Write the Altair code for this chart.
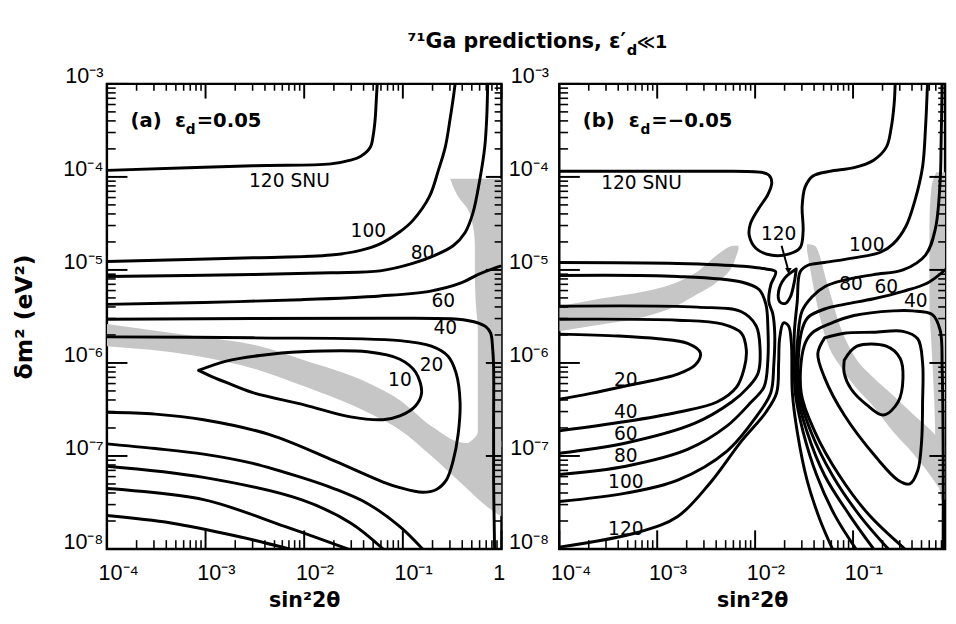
import altair as alt
import numpy as np
import pandas as pd

# ---------------- axes ----------------
X_MAJOR = [1e-4, 1e-3, 1e-2, 1e-1, 1.0]
X_MAJOR_LABELS = ["10⁻⁴", "10⁻³", "10⁻²", "10⁻¹", "1"]
Y_MAJOR = [1e-8, 1e-7, 1e-6, 1e-5, 1e-4, 1e-3]
Y_MAJOR_LABELS = ["10⁻⁸", "10⁻⁷", "10⁻⁶", "10⁻⁵", "10⁻⁴", "10⁻³"]
MINOR_MULT = [2, 3, 4, 5, 6, 7, 8, 9]
A_XMAX = 1.0
B_XMAX = 0.87

# ---------------- panel (a): contour lines, log10(sin^2 2θ), log10(δm^2) ----------------
a120_x = [-4.0, -2.52, -1.73, -1.53, -1.43, -1.33, -1.30, -1.28, -1.27, -1.26]
a120_y = [-3.93, -3.88, -3.86, -3.82, -3.78, -3.68, -3.55, -3.37, -3.19, -3.0]
a100_x = [-4.0, -2.52, -1.73, -1.43, -1.23, -1.03, -0.90, -0.73, -0.64, -0.57, -0.52, -0.49, -0.47]
a100_y = [-4.91, -4.87, -4.84, -4.79, -4.72, -4.59, -4.47, -4.21, -3.93, -3.68, -3.37, -3.16, -3.0]
a80_x = [-4.0, -2.52, -1.73, -1.23, -0.90, -0.67, -0.49, -0.37, -0.29, -0.22, -0.17, -0.15, -0.14]
a80_y = [-5.07, -5.05, -5.03, -5.01, -4.93, -4.84, -4.74, -4.60, -4.39, -4.03, -3.68, -3.37, -3.0]
a60_x = [-4.0, -3.02, -2.03, -1.23, -0.73, -0.41, -0.24, -0.07, -0.01]
a60_y = [-5.37, -5.35, -5.32, -5.28, -5.23, -5.14, -5.05, -4.98, -4.96]
a40_x = [-4.0, -1.23, -0.44, -0.27, -0.16, -0.11, -0.09, -0.08, -0.08, -0.08, -0.07]
a40_y = [-5.53, -5.52, -5.53, -5.56, -5.61, -5.68, -5.84, -6.05, -6.63, -7.26, -8.0]
a20_x = [-4.0, -2.52, -1.03, -0.71, -0.54, -0.46, -0.42, -0.44, -0.49, -0.56, -0.66, -0.80,
         -1.03, -1.20, -1.70, -2.35, -3.02, -3.51, -4.0]
a20_y = [-5.72, -5.73, -5.76, -5.82, -5.93, -6.11, -6.42, -6.77, -7.05, -7.26, -7.36, -7.39,
         -7.34, -7.28, -7.05, -6.77, -6.61, -6.55, -6.53]
a10_x = [-3.07, -2.79, -2.45, -2.03, -1.36, -1.03, -0.87, -0.81, -0.87, -1.03, -1.20, -1.53,
         -2.00, -2.52, -2.79, -2.97, -3.07]
a10_y = [-6.08, -5.98, -5.92, -5.88, -5.88, -5.96, -6.10, -6.32, -6.46, -6.57, -6.61, -6.58,
         -6.45, -6.32, -6.21, -6.13, -6.08]
aL1_x = [-4.0, -3.51, -3.02, -2.52, -2.03, -1.70, -1.36, -1.03, -0.80]
aL1_y = [-6.87, -6.92, -6.98, -7.08, -7.23, -7.35, -7.51, -7.76, -8.0]
aL2_x = [-4.0, -3.02, -2.03, -1.53, -1.20]
aL2_y = [-7.11, -7.23, -7.47, -7.72, -8.0]
aL3_x = [-4.0, -3.02, -2.19, -1.56]
aL3_y = [-7.35, -7.47, -7.76, -8.0]
aL4_x = [-4.0, -3.35, -2.69, -2.15]
aL4_y = [-7.64, -7.72, -7.86, -8.0]

# shaded regions (a)
a_band_x = [-4.0, -3.12, -2.45, -2.03, -1.36, -1.03, -0.71, -0.37, -0.14, 0.0]
a_band_top = [-5.58, -5.71, -5.82, -5.96, -6.21, -6.40, -6.68, -6.86, -6.85, -6.84]
a_band_bot = [-5.82, -5.92, -6.08, -6.24, -6.53, -6.72, -7.00, -7.33, -7.55, -7.65]
a_vband_y = [-4.02, -4.21, -4.35, -4.53, -4.74, -5.08, -5.37, -5.65, -6.74, -6.90]
a_vband_x = [-0.52, -0.44, -0.34, -0.29, -0.27, -0.27, -0.26, -0.24, -0.24, -0.39]
a_vband_x2 = 0.0

# labels (a)
a_lab_text = ["120 SNU", "100", "80", "60", "40", "20", "10"]
a_lab_x = [-2.15, -1.35, -0.80, -0.59, -0.57, -0.71, -1.03]
a_lab_y = [-4.05, -4.58, -4.82, -5.34, -5.63, -6.02, -6.18]
a_tag_text = ["(a)", "ε", "=0.05"]
a_tag_x = [-3.76, -3.31, -3.09]
a_sub_x = [-3.20]
tag_y = -3.40

# ---------------- panel (b) ----------------
b120t_x = [-4.0, -2.59, -1.94, -1.86, -1.83, -1.87, -1.97, -2.05, -2.06, -1.99, -1.84, -1.66, -1.54,
           -1.51, -1.52, -1.49, -1.41, -1.24, -0.99, -0.79, -0.66, -0.61, -0.58, -0.57]
b120t_y = [-3.94, -3.94, -3.95, -3.98, -4.06, -4.19, -4.35, -4.51, -4.63, -4.77, -4.84, -4.83, -4.76,
           -4.58, -4.32, -4.11, -3.99, -3.94, -3.90, -3.82, -3.68, -3.47, -3.21, -3.0]
b100L_x = [-4.0, -2.79, -2.12, -1.89, -1.79, -1.84, -1.86, -1.82, -1.80, -1.81, -1.84, -1.99,
           -2.29, -2.79, -3.32, -4.0]
b100L_y = [-4.92, -4.93, -4.96, -4.99, -5.02, -5.16, -5.34, -5.47, -5.68, -6.03, -6.32, -6.58,
           -6.95, -7.26, -7.40, -7.49]
b80L_x = [-4.0, -2.79, -2.14, -1.96, -1.89, -1.87, -1.87, -1.91, -2.04, -2.29, -2.69, -3.32, -4.0]
b80L_y = [-5.06, -5.07, -5.13, -5.21, -5.37, -5.61, -5.97, -6.26, -6.42, -6.68, -6.93, -7.11, -7.20]
b60L_x = [-4.0, -2.59, -2.14, -1.99, -1.95, -1.97, -2.07, -2.24, -2.62, -3.32, -4.0]
b60L_y = [-5.39, -5.40, -5.45, -5.60, -5.84, -6.11, -6.26, -6.42, -6.65, -6.86, -6.97]
b40L_x = [-4.0, -2.79, -2.34, -2.14, -2.09, -2.11, -2.19, -2.39, -2.79, -3.32, -4.0]
b40L_y = [-5.53, -5.54, -5.58, -5.68, -5.86, -6.05, -6.26, -6.42, -6.53, -6.63, -6.73]
b20L_x = [-4.0, -3.39, -2.99, -2.69, -2.56, -2.61, -2.79, -3.29, -3.69, -4.0]
b20L_y = [-5.69, -5.71, -5.74, -5.79, -5.89, -6.02, -6.12, -6.24, -6.33, -6.39]
b120a_x = [-4.0, -3.19, -2.79, -2.46, -2.14, -1.89, -1.78, -1.76, -1.75, -1.71, -1.66, -1.63,
           -1.62, -1.57, -1.47, -1.34, -1.21]
b120a_y = [-7.98, -7.82, -7.65, -7.29, -6.84, -6.53, -6.32, -6.00, -5.74, -5.57, -5.60, -5.79,
           -6.32, -6.74, -7.26, -7.68, -8.0]
b120i_x = [-1.58, -1.60, -1.64, -1.69, -1.75, -1.76, -1.70, -1.58]
b120i_y = [-4.99, -5.13, -5.29, -5.36, -5.34, -5.23, -5.09, -4.99]
b100R_x = [-0.24, -0.26, -0.29, -0.37, -0.46, -0.59, -0.72, -0.99, -1.29, -1.46, -1.54, -1.57,
           -1.60, -1.60, -1.59, -1.51, -1.37, -1.19, -0.97]
b100R_y = [-3.0, -3.47, -3.89, -4.26, -4.53, -4.72, -4.81, -4.87, -4.92, -4.95, -5.02, -5.34,
           -5.68, -6.03, -6.32, -6.74, -7.21, -7.63, -8.0]
b80R_x = [-0.09, -0.10, -0.11, -0.16, -0.26, -0.49, -0.79, -1.09, -1.29, -1.42, -1.52, -1.56,
          -1.57, -1.47, -1.29, -1.04, -0.79]
b80R_y = [-3.0, -3.58, -4.03, -4.56, -4.84, -5.0, -5.05, -5.11, -5.18, -5.29, -5.44, -5.68,
          -6.32, -6.74, -7.21, -7.63, -8.0]
b60R_x = [-0.05, -0.24, -0.49, -0.79, -1.09, -1.29, -1.46, -1.53, -1.55, -1.43, -1.21, -0.94, -0.64]
b60R_y = [-4.99, -5.14, -5.23, -5.31, -5.37, -5.42, -5.51, -5.68, -6.32, -6.74, -7.21, -7.63, -8.0]
b40R_x = [-0.08, -0.08, -0.09, -0.11, -0.19, -0.39, -0.59, -0.99, -1.24, -1.42, -1.50, -1.53,
          -1.39, -1.14, -0.84, -0.47]
b40R_y = [-8.0, -6.95, -6.07, -5.65, -5.48, -5.44, -5.44, -5.49, -5.58, -5.68, -5.82, -6.32,
          -6.74, -7.21, -7.63, -8.0]
b20R_x = [-1.29, -1.09, -0.79, -0.49, -0.34, -0.29, -0.29, -0.30, -0.34, -0.42, -0.54, -0.76,
          -1.09, -1.29, -1.36, -1.29]
b20R_y = [-5.73, -5.68, -5.67, -5.66, -5.74, -6.0, -6.42, -6.84, -7.16, -7.30, -7.26, -7.02,
          -6.56, -6.16, -5.90, -5.73]
b10R_x = [-1.09, -0.96, -0.66, -0.52, -0.49, -0.54, -0.69, -0.86, -1.02, -1.09, -1.09]
b10R_y = [-5.97, -5.82, -5.82, -5.95, -6.16, -6.42, -6.56, -6.45, -6.28, -6.11, -5.97]

# shaded regions (b)
b_band1_x = [-4.0, -3.59, -3.12, -2.79, -2.59, -2.39, -2.22, -2.17]
b_band1_top = [-5.39, -5.31, -5.23, -5.13, -5.02, -4.84, -4.74, -4.74]
b_band1_bot = [-5.66, -5.59, -5.50, -5.38, -5.26, -5.13, -4.93, -4.78]
b_band2_x = [-1.47, -1.39, -1.26, -1.14, -0.99, -0.79, -0.59, -0.39, -0.19, -0.05]
b_band2_top = [-4.72, -4.74, -5.16, -5.58, -5.92, -6.16, -6.35, -6.55, -6.74, -6.90]
b_band2_bot = [-4.79, -5.26, -5.79, -6.02, -6.24, -6.47, -6.74, -6.97, -7.24, -7.47]
b_vband_y = [-3.95, -4.11, -4.53, -5.37, -5.79, -6.42, -7.05, -7.47]
b_vband_x = [-0.15, -0.20, -0.22, -0.22, -0.20, -0.17, -0.15, -0.10]
b_vband_x2 = -0.05

# labels (b)
b_lab_text = ["120 SNU", "120", "100", "80", "60", "40", "20", "40", "60", "80", "100", "120"]
b_lab_x = [-3.16, -1.76, -0.86, -1.02, -0.66, -0.36, -3.32, -3.32, -3.32, -3.32, -3.32, -3.32]
b_lab_y = [-4.07, -4.62, -4.73, -5.15, -5.18, -5.34, -6.18, -6.53, -6.77, -7.00, -7.28, -7.79]
b_tag_text = ["(b)", "ε", "=−0.05"]
b_tag_x = [-3.76, -3.29, -3.06]
b_sub_x = [-3.17]
b_arrow = {"x": [-1.73], "y": [-4.74], "x2": [-1.66], "y2": [-5.01]}

SHADE = "#c6c6c6"
NUM_FONT = "'Liberation Sans Narrow', 'Liberation Sans', sans-serif"
TXT_FONT = "DejaVu Sans"
H = 475


def label_expr(vals, labels):
    expr = "''"
    for v, lab in zip(vals, labels):
        e = int(round(np.log10(v)))
        expr = f"abs(log(datum.value)/LN10 - ({e})) < 0.05 ? '{lab}' : " + expr
    return expr


def curve_frame(curves):
    rows = []
    for name, xs, ys in curves:
        for i, (lx, ly) in enumerate(zip(xs, ys)):
            rows.append({"c": name, "i": i, "x": 10.0 ** lx, "y": 10.0 ** ly})
    return pd.DataFrame(rows)


def make_panel(curves, bands, vbands, labels, tags, sub_x, xmax, width, ytitle, ylabpad,
               arrow=None, title=False):
    xs = alt.Scale(type="log", domain=[1e-4, xmax], nice=False)
    ys = alt.Scale(type="log", domain=[1e-8, 1e-3], nice=False)
    xvals = [v for v in X_MAJOR if v <= xmax * 1.0001]
    xaxis = alt.Axis(values=xvals, labelExpr=label_expr(X_MAJOR, X_MAJOR_LABELS),
                     title="sin²2θ", titleFontSize=21, labelAlign="left", labelOffset=-9,
                     labelFlush=False, labelOverlap=False, labelPadding=14, titlePadding=7)
    if ytitle:
        yaxis = alt.Axis(values=Y_MAJOR, labelExpr=label_expr(Y_MAJOR, Y_MAJOR_LABELS),
                         title="δm² (eV²)", titleFontSize=24, labelPadding=ylabpad,
                         labelBaseline="alphabetic", labelOffset=-1,
                         titlePadding=27, labelOverlap=False, labelFlush=False)
    else:
        yaxis = alt.Axis(values=Y_MAJOR, labelExpr=label_expr(Y_MAJOR, Y_MAJOR_LABELS),
                         title=None, labelPadding=ylabpad, labelBaseline="alphabetic",
                         labelOffset=-1, labelOverlap=False, labelFlush=False)

    def X(f="x"):
        return alt.X(f"{f}:Q", scale=xs, axis=xaxis)

    def Y(f="y"):
        return alt.Y(f"{f}:Q", scale=ys, axis=yaxis)

    layers = []
    for bx, bt, bb in bands:
        df = pd.DataFrame({"x": [10.0 ** v for v in bx], "y": [10.0 ** v for v in bt],
                           "y2": [10.0 ** v for v in bb]})
        layers.append(alt.Chart(df).mark_area(color=SHADE, clip=True, interpolate="monotone")
                      .encode(x=X(), y=Y(), y2="y2:Q"))
    for vy, vx, vx2 in vbands:
        df = pd.DataFrame({"y": [10.0 ** v for v in vy], "x": [10.0 ** v for v in vx],
                           "x2": [10.0 ** vx2] * len(vy)})
        layers.append(alt.Chart(df).mark_area(color=SHADE, clip=True, orient="horizontal",
                                              interpolate="monotone")
                      .encode(y=Y(), x=X(), x2="x2:Q"))

    # inward ticks on all four sides
    xmaj = pd.DataFrame({"x": xvals})
    xmin = pd.DataFrame({"x": [m * 10.0 ** e for e in range(-4, 0) for m in MINOR_MULT
                               if m * 10.0 ** e <= xmax]})
    ymaj = pd.DataFrame({"y": Y_MAJOR})
    ymin = pd.DataFrame({"y": [m * 10.0 ** e for e in range(-8, -3) for m in MINOR_MULT]})
    for df, ln, sw in [(xmaj, 19, 2), (xmin, 9, 1.6)]:
        layers.append(alt.Chart(df).mark_rule(color="black", strokeWidth=sw)
                      .encode(x=X(), y=alt.value(H), y2=alt.value(H - ln)))
        layers.append(alt.Chart(df).mark_rule(color="black", strokeWidth=sw)
                      .encode(x=X(), y=alt.value(0), y2=alt.value(int(ln * 0.8))))
    for df, ln, sw in [(ymaj, 21, 2), (ymin, 9, 1.6)]:
        layers.append(alt.Chart(df).mark_rule(color="black", strokeWidth=sw)
                      .encode(y=Y(), x=alt.value(0), x2=alt.value(ln)))
        layers.append(alt.Chart(df).mark_rule(color="black", strokeWidth=sw)
                      .encode(y=Y(), x=alt.value(width), x2=alt.value(width - int(ln * 0.8))))

    # contour lines
    layers.append(alt.Chart(curve_frame(curves)).mark_line(
        color="black", strokeWidth=3, interpolate="catmull-rom", clip=True,
        strokeCap="round", strokeJoin="round")
        .encode(x=X(), y=Y(), detail="c:N", order="i:Q"))

    # contour labels
    lt, lxs, lys = labels
    ldf = pd.DataFrame({"t": lt, "x": [10.0 ** v for v in lxs], "y": [10.0 ** v for v in lys]})
    layers.append(alt.Chart(ldf).mark_text(font=TXT_FONT, fontSize=19, color="black")
                  .encode(x=X(), y=Y(), text="t:N"))

    # panel tag with subscript
    tt, tx = tags
    tdf = pd.DataFrame({"t": tt, "x": [10.0 ** v for v in tx], "y": [10.0 ** tag_y] * len(tt)})
    layers.append(alt.Chart(tdf).mark_text(font=TXT_FONT, fontSize=20, fontWeight="bold",
                                           align="left", color="black")
                  .encode(x=X(), y=Y(), text="t:N"))
    sdf = pd.DataFrame({"t": ["d"], "x": [10.0 ** v for v in sub_x], "y": [10.0 ** tag_y]})
    layers.append(alt.Chart(sdf).mark_text(font=TXT_FONT, fontSize=14, fontWeight="bold",
                                           align="left", dy=9, color="black")
                  .encode(x=X(), y=Y(), text="t:N"))

    if arrow is not None:
        adf = pd.DataFrame({k: [10.0 ** v for v in vals] for k, vals in arrow.items()})
        layers.append(alt.Chart(adf).mark_rule(color="black", strokeWidth=2)
                      .encode(x=X(), y=Y(), x2="x2:Q", y2="y2:Q"))
        layers.append(alt.Chart(adf).mark_point(shape="triangle-down", filled=True, size=45,
                                                color="black", opacity=1)
                      .encode(x=X("x2"), y=Y("y2")))

    if title:
        t1 = pd.DataFrame({"t": ["⁷¹Ga predictions, ε′"]})
        t2 = pd.DataFrame({"t": ["d"]})
        t3 = pd.DataFrame({"t": ["≪1"]})
        layers.append(alt.Chart(t1).mark_text(font=TXT_FONT, fontSize=21, fontWeight="bold",
                                              align="right", baseline="alphabetic", color="black")
                      .encode(x=alt.value(530), y=alt.value(-37), text="t:N"))
        layers.append(alt.Chart(t2).mark_text(font=TXT_FONT, fontSize=15, fontWeight="bold",
                                              align="left", baseline="alphabetic", color="black")
                      .encode(x=alt.value(531), y=alt.value(-30), text="t:N"))
        layers.append(alt.Chart(t3).mark_text(font=TXT_FONT, fontSize=18, fontWeight="bold",
                                              align="left", baseline="alphabetic", color="black")
                      .encode(x=alt.value(541), y=alt.value(-37), text="t:N"))

    return alt.layer(*layers).properties(width=width, height=H)


curves_a = [("a120", a120_x, a120_y), ("a100", a100_x, a100_y), ("a80", a80_x, a80_y),
            ("a60", a60_x, a60_y), ("a40", a40_x, a40_y), ("a20", a20_x, a20_y),
            ("a10", a10_x, a10_y), ("aL1", aL1_x, aL1_y), ("aL2", aL2_x, aL2_y),
            ("aL3", aL3_x, aL3_y), ("aL4", aL4_x, aL4_y)]
curves_b = [("b120t", b120t_x, b120t_y), ("b100L", b100L_x, b100L_y), ("b80L", b80L_x, b80L_y),
            ("b60L", b60L_x, b60L_y), ("b40L", b40L_x, b40L_y), ("b20L", b20L_x, b20L_y),
            ("b120a", b120a_x, b120a_y), ("b120i", b120i_x, b120i_y),
            ("b100R", b100R_x, b100R_y), ("b80R", b80R_x, b80R_y), ("b60R", b60R_x, b60R_y),
            ("b40R", b40R_x, b40R_y), ("b20R", b20R_x, b20R_y), ("b10R", b10R_x, b10R_y)]

left = make_panel(curves_a, [(a_band_x, a_band_top, a_band_bot)],
                  [(a_vband_y, a_vband_x, a_vband_x2)],
                  (a_lab_text, a_lab_x, a_lab_y), (a_tag_text, a_tag_x), a_sub_x,
                  A_XMAX, 403, True, 4, title=True)
right = make_panel(curves_b, [(b_band1_x, b_band1_top, b_band1_bot),
                              (b_band2_x, b_band2_top, b_band2_bot)],
                   [(b_vband_y, b_vband_x, b_vband_x2)],
                   (b_lab_text, b_lab_x, b_lab_y), (b_tag_text, b_tag_x), b_sub_x,
                   B_XMAX, 394, False, 11, arrow=b_arrow)

chart = (alt.hconcat(left, right, spacing=59, bounds="flush")
         .properties(padding={"left": 3, "top": 15, "right": 0, "bottom": 0}, background="white")
         .configure_view(stroke="black", strokeWidth=2.5)
         .configure_axis(grid=False, ticks=False, domain=False, labelFont=NUM_FONT,
                         labelFontSize=22, labelColor="black", titleFont=TXT_FONT,
                         titleFontSize=22, titleFontWeight="bold", titleColor="black"))

chart.save("out.html", embed_options={"renderer": "svg", "actions": False})
